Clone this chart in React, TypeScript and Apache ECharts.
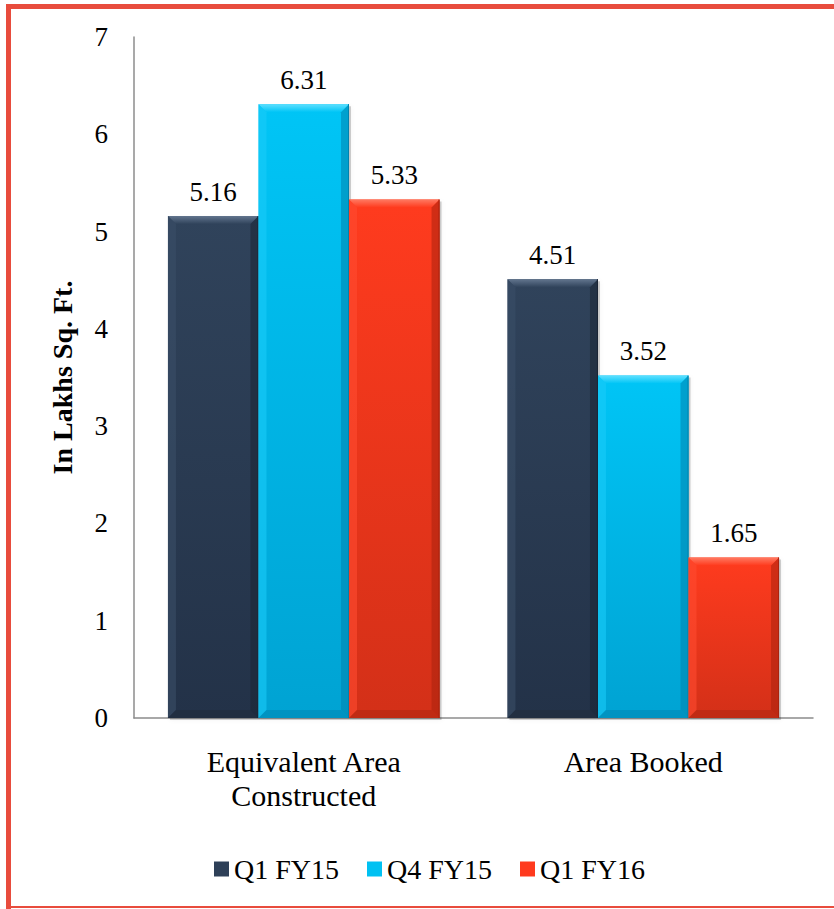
import React, { useEffect, useRef } from "react";
import * as echarts from "echarts";

const categories = ["Equivalent Area\nConstructed", "Area Booked"];
const seriesNames = ["Q1 FY15", "Q4 FY15", "Q1 FY16"];
const q1fy15 = [5.16, 4.51];
const q4fy15 = [6.31, 3.52];
const q1fy16 = [5.33, 1.65];
const yTicks = [0, 1, 2, 3, 4, 5, 6, 7];

const FONT = "'Liberation Serif', serif";

const palettes = [
  { base: "#2e4058", top: "#30435b", bottom: "#233248", bevelTop: "#62758e", bevelL: "#3b4e67", bevelR: "#1b2635", bevelB: "#1f2b3c" },
  { base: "#00c1f2", top: "#00c5f6", bottom: "#00a3d3", bevelTop: "#5fe0ff", bevelL: "#19ccf8", bevelR: "#0083ad", bevelB: "#0089b6" },
  { base: "#ff3a1e", top: "#ff3b1e", bottom: "#d33018", bevelTop: "#ff7a62", bevelL: "#ff4b30", bevelR: "#a9230f", bevelB: "#b32812" },
];

export default function App() {
  const ref = useRef<HTMLDivElement>(null);
  useEffect(() => {
    if (!ref.current) return;
    const chart = echarts.init(ref.current, null, { renderer: "svg" });
    const datasets = [q1fy15, q4fy15, q1fy16];
    const makeRender = (si: number) => (params: any, api: any) => {
      const cat = api.value(0);
      const val = api.value(1);
      const top = api.coord([cat, val]);
      const base = api.coord([cat, 0]);
      const band = api.size([1, 0])[0];
      const bw = (band * 0.8) / 3;
      const x = base[0] - band * 0.4 + si * bw;
      const y = top[1];
      const h = base[1] - top[1];
      const b = Math.min(8, h / 2);
      const p = palettes[si];
      return {
        type: "group",
        children: [
          {
            type: "rect",
            shape: { x: x + 2, y: y + 2, width: bw, height: h },
            style: { fill: "rgba(0,0,0,0.18)", shadowBlur: 4, shadowColor: "rgba(0,0,0,0.25)" },
          },
          {
            type: "rect",
            shape: { x, y, width: bw, height: h },
            style: {
              fill: new echarts.graphic.LinearGradient(0, 0, 0, 1, [
                { offset: 0, color: p.top },
                { offset: 1, color: p.bottom },
              ]),
            },
          },
          {
            type: "polygon",
            shape: { points: [[x, y], [x + bw, y], [x + bw - b, y + b], [x + b, y + b]] },
            style: {
              fill: new echarts.graphic.LinearGradient(0, 0, 0, 1, [
                { offset: 0, color: p.bevelTop },
                { offset: 1, color: p.top },
              ]),
            },
          },
          {
            type: "polygon",
            shape: { points: [[x, y], [x + b, y + b], [x + b, y + h - b], [x, y + h]] },
            style: { fill: p.bevelL, opacity: 0.6 },
          },
          {
            type: "polygon",
            shape: { points: [[x + bw, y], [x + bw - b, y + b], [x + bw - b, y + h - b], [x + bw, y + h]] },
            style: { fill: p.bevelR, opacity: 0.55 },
          },
          {
            type: "polygon",
            shape: { points: [[x, y + h], [x + b, y + h - b], [x + bw - b, y + h - b], [x + bw, y + h]] },
            style: { fill: p.bevelB, opacity: 0.6 },
          },
          {
            type: "line",
            shape: { x1: x + bw - 0.5, y1: y, x2: x + bw - 0.5, y2: y + h },
            style: { stroke: p.bevelR, lineWidth: 1 },
          },
          {
            type: "text",
            x: x + bw / 2,
            y: y - 11,
            style: {
              text: val.toFixed(2),
              fontFamily: FONT,
              fontSize: 27,
              fill: "#000",
              align: "center",
              verticalAlign: "bottom",
            },
          },
        ],
      };
    };
    chart.setOption({
      animation: false,
      backgroundColor: "#ffffff",
      textStyle: { fontFamily: FONT },
      graphic: [
        { type: "rect", shape: { x: 6, y: 4, width: 828, height: 5 }, style: { fill: "#e84c3d" } },
        { type: "rect", shape: { x: 6, y: 4, width: 5, height: 905 }, style: { fill: "#e84c3d" } },
        { type: "rect", shape: { x: 6, y: 906, width: 828, height: 2 }, style: { fill: "#e84c3d" } },
      ],
      grid: { left: 134, right: 21, top: 37, bottom: 191, containLabel: false },
      legend: {
        left: 209,
        top: 850,
        itemWidth: 15,
        itemHeight: 15,
        itemGap: 28,
        icon: "rect",
        textStyle: { fontFamily: FONT, fontSize: 28, color: "#000" },
        data: seriesNames,
      },
      xAxis: {
        type: "category",
        data: categories,
        axisLine: { lineStyle: { color: "#8c8c8c", width: 1.5 } },
        axisTick: { show: false },
        axisLabel: {
          fontFamily: FONT,
          fontSize: 30,
          color: "#000",
          lineHeight: 34,
          margin: 26,
        },
      },
      yAxis: {
        type: "value",
        min: yTicks[0],
        max: yTicks[yTicks.length - 1],
        interval: 1,
        name: "In Lakhs Sq. Ft.",
        nameLocation: "middle",
        nameGap: 58,
        nameRotate: 90,
        nameTextStyle: { fontFamily: FONT, fontSize: 28, fontWeight: "bold", color: "#000" },
        axisLine: { show: true, lineStyle: { color: "#8c8c8c", width: 1.5 } },
        axisTick: { show: false },
        splitLine: { show: false },
        axisLabel: { fontFamily: FONT, fontSize: 27, color: "#000", margin: 26 },
      },
      series: seriesNames.map((name, i) => ({
        name,
        type: "custom",
        data: datasets[i].map((v, j) => [j, v]),
        encode: { x: 0, y: 1 },
        itemStyle: { color: palettes[i].base },
        renderItem: makeRender(i),
      })),
    });
    return () => chart.dispose();
  }, []);
  return (
    <div
      ref={ref}
      style={{ position: "absolute", left: 0, top: 0, width: 834, height: 909 }}
    />
  );
}
